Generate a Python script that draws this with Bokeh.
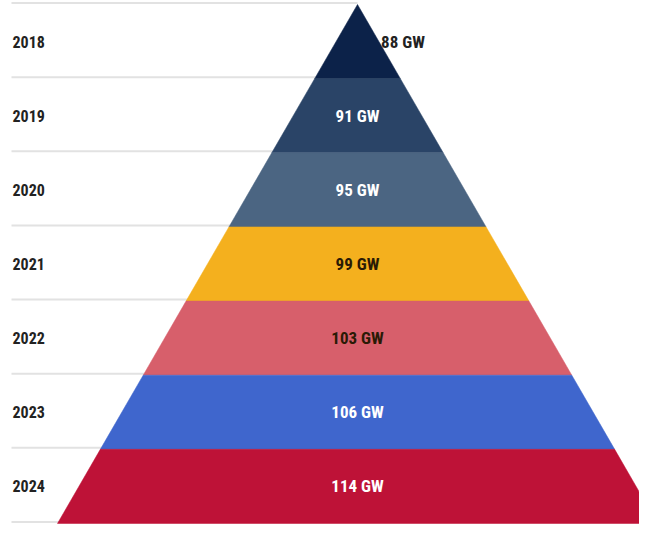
from bokeh.plotting import figure
from bokeh.models import Range1d, ColumnDataSource
from bokeh.core.properties import value
from bokeh.embed import file_html
from bokeh.resources import INLINE

years = ["2018", "2019", "2020", "2021", "2022", "2023", "2024"]
capacity_gw = [88, 91, 95, 99, 103, 106, 114]
labels = [f"{v} GW" for v in capacity_gw]
colors = ["#0c2249", "#2a4467", "#4b6582", "#f4b01e", "#d75f6b", "#3f66cd", "#be1237"]
label_colors = ["#222222", "#ffffff", "#ffffff", "#2a1a05", "#2a1a05", "#ffffff", "#ffffff"]

FONT = value("'Roboto Condensed', 'Liberation Sans Narrow', 'DejaVu Sans Condensed', Roboto, sans-serif")
SLOPE = 42.86  # half-width (px) per level
LEFT = -346    # x of year labels / grid start, relative to apex

n = len(years)
xs, ys = [], []
for i in range(n):
    t, b = i, i + 1
    xs.append([-SLOPE * t, SLOPE * t, SLOPE * b, -SLOPE * b])
    ys.append([t, t, b, b])

p = figure(width=639, height=525, output_backend="svg", toolbar_location=None,
           x_range=Range1d(-357, 282), y_range=Range1d(n + 0.027, -0.054),
           min_border=0, outline_line_color=None)
p.axis.visible = False
p.grid.visible = False
p.background_fill_color = "white"

# grid lines on the left
gy = list(range(n + 1))
p.segment(x0=[LEFT] * len(gy), y0=[g - 0.02 for g in gy], x1=[0] * len(gy), y1=[g - 0.02 for g in gy],
          line_color="#e2e2e2", line_width=2)

src = ColumnDataSource(dict(xs=xs, ys=ys, color=colors))
p.patches("xs", "ys", fill_color="color", line_color="color", line_width=0.5, source=src)

# year labels
mid = [i + 0.5 for i in range(n)]
p.text(x=[LEFT + 1] * n, y=mid, text=years, text_font=FONT, text_font_style="bold",
       text_font_size="16px", text_color="#222222", text_align="left", text_baseline="middle")

# value labels
lx = [SLOPE * 0.55 if i == 0 else 0 for i in range(n)]
la = ["left" if i == 0 else "center" for i in range(n)]
lsrc = ColumnDataSource(dict(x=lx, y=mid, text=labels, color=label_colors, align=la))
p.text(x="x", y="y", text="text", text_color="color", text_align="align", source=lsrc,
       text_font=FONT, text_font_style="bold", text_font_size="17px", text_baseline="middle")

open("out.html", "w").write(file_html(p, INLINE))
